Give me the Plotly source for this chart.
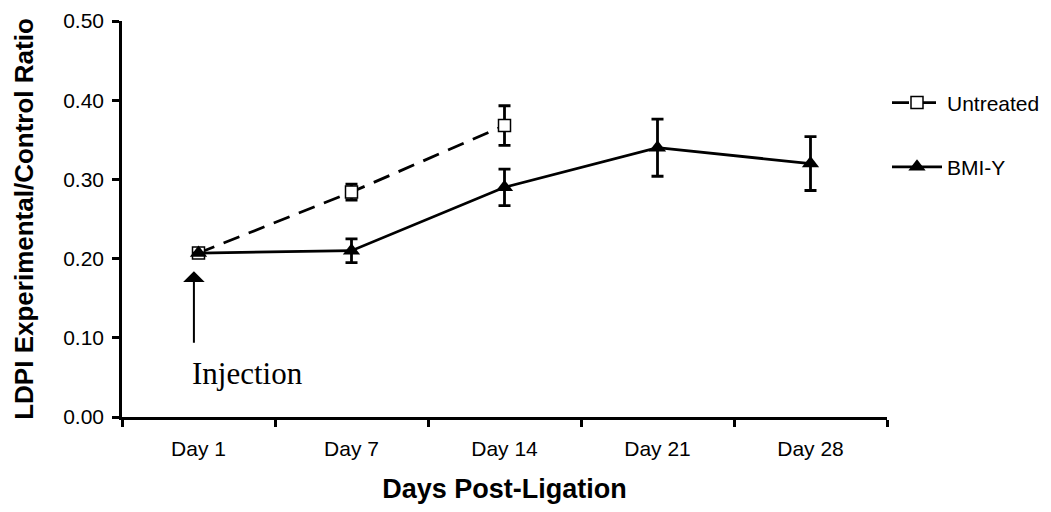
import plotly.graph_objects as go

# Days after ligation (categorical x axis)
days = ["Day 1", "Day 7", "Day 14", "Day 21", "Day 28"]

# LDPI experimental / control ratio, mean and SEM
untreated_days = ["Day 1", "Day 7", "Day 14"]
untreated_mean = [0.207, 0.284, 0.368]
untreated_err = [0.0, 0.010, 0.025]

bmiy_mean = [0.207, 0.210, 0.290, 0.340, 0.320]
bmiy_err = [0.0, 0.015, 0.023, 0.036, 0.034]

y_ticks = [0.0, 0.1, 0.2, 0.3, 0.4, 0.5]

SANS = "Arial, Liberation Sans, sans-serif"
SERIF = "Times New Roman, Liberation Serif, serif"

fig = go.Figure()

fig.add_trace(go.Scatter(
    x=untreated_days, y=untreated_mean, name="Untreated",
    mode="lines+markers", legendgroup="u",
    line=dict(color="black", width=2.8, dash="17px,10px"),
    marker=dict(symbol="square", size=12, color="white",
                line=dict(color="black", width=1.5)),
    error_y=dict(type="data", array=untreated_err, visible=True,
                 color="black", thickness=2.8, width=6),
))

fig.add_trace(go.Scatter(
    x=days, y=bmiy_mean, name="BMI-Y",
    mode="lines+markers", legendgroup="b",
    line=dict(color="black", width=2.8),
    marker=dict(symbol="triangle-up", size=15, color="black",
                line=dict(color="black", width=0)),
    error_y=dict(type="data", array=bmiy_err, visible=True,
                 color="black", thickness=2.8, width=6),
))

# Injection marker: arrow pointing up to day 1 plus label
fig.add_annotation(
    x=-0.03, y=0.184, ax=-0.03, ay=0.092,
    xref="x", yref="y", axref="x", ayref="y",
    text="", showarrow=True, arrowhead=1, arrowsize=1.8,
    arrowwidth=2, arrowcolor="black",
)
fig.add_annotation(
    x=-0.058, y=0.055, xref="x", yref="y",
    text="Injection", showarrow=False,
    xanchor="left", yanchor="middle",
    font=dict(family=SERIF, size=31, color="black"),
)

fig.update_layout(
    width=1051, height=512,
    margin=dict(l=122, r=164, t=21, b=95, autoexpand=False),
    paper_bgcolor="white", plot_bgcolor="white",
    font=dict(family=SANS, color="black", size=21),
    legend=dict(
        x=1.0, y=0.845, xanchor="left", yanchor="top",
        font=dict(family=SANS, size=21, color="black"),
        tracegroupgap=34, itemwidth=50,
        bgcolor="rgba(0,0,0,0)",
    ),
    xaxis=dict(
        type="category", categoryorder="array", categoryarray=days,
        range=[-0.5, 4.5], tickson="boundaries",
        showline=True, linecolor="black", linewidth=2.5,
        ticks="outside", ticklen=7, tickwidth=2.5, tickcolor="black",
        showgrid=False, zeroline=False,
        tickfont=dict(family=SANS, size=21), ticklabelstandoff=11,
        title=dict(text="<b>Days Post-Ligation</b>",
                   font=dict(family=SANS, size=27), standoff=21),
    ),
    yaxis=dict(
        range=[0, 0.5], tickvals=y_ticks, tickformat=".2f",
        showline=True, linecolor="black", linewidth=2.5,
        ticks="outside", ticklen=7, tickwidth=2.5, tickcolor="black",
        showgrid=False, zeroline=False,
        tickfont=dict(family=SANS, size=21), ticklabelstandoff=4,
        title=dict(text="<b>LDPI Experimental/Control Ratio</b>",
                   font=dict(family=SANS, size=26), standoff=23),
    ),
)

fig.write_html("out.html")
